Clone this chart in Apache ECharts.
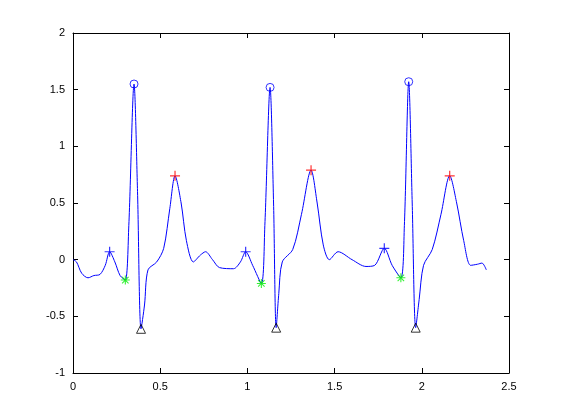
<!DOCTYPE html>
<html><head><meta charset="utf-8">
<script src="https://cdn.jsdelivr.net/npm/echarts@6/dist/echarts.min.js"></script>
<style>body{margin:0;background:#fff}#c{width:561px;height:420px}</style>
</head><body><div id="c"></div>
<script>
// ecg trace [t, mV]
var ecg = [[0,0],[0.02,-0.02],[0.05,-0.12],[0.086,-0.16],[0.12,-0.14],[0.155,-0.13],[0.185,-0.05],[0.21,0.07],[0.24,-0.02],[0.27,-0.14],[0.30,-0.18],
  [0.32,0.3],[0.35,1.55],[0.37,0.6],[0.39,-0.61],[0.41,-0.4],[0.43,-0.09],[0.48,-0.02],[0.52,0.1],[0.555,0.45],[0.585,0.74],[0.62,0.5],[0.65,0.17],[0.69,-0.02],
  [0.73,0.04],[0.76,0.07],[0.8,0.0],[0.84,-0.07],[0.92,-0.08],[0.96,-0.02],[0.99,0.07],[1.03,-0.05],[1.08,-0.21],
  [1.10,0.3],[1.13,1.52],[1.15,0.5],[1.165,-0.6],[1.18,-0.3],[1.2,-0.02],[1.26,0.09],[1.31,0.4],[1.365,0.79],[1.40,0.5],[1.435,0.13],[1.47,0.0],
  [1.52,0.07],[1.6,0.0],[1.68,-0.06],[1.73,-0.05],[1.785,0.1],[1.83,-0.05],[1.88,-0.16],
  [1.90,0.3],[1.925,1.57],[1.945,0.5],[1.965,-0.6],[1.985,-0.35],[2.01,-0.05],[2.06,0.09],[2.11,0.4],[2.16,0.74],[2.20,0.5],[2.24,0.17],[2.28,-0.05],[2.32,-0.04],[2.345,-0.03],[2.37,-0.09]];
var rPeaks = [[0.35,1.55],[1.13,1.52],[1.925,1.57]];
var sPoints = [[0.39,-0.61],[1.165,-0.6],[1.965,-0.6]];
var pPeaks = [[0.21,0.07],[0.99,0.07],[1.785,0.1]];
var qPoints = [[0.30,-0.18],[1.08,-0.21],[1.88,-0.16]];
var tPeaks = [[0.585,0.74],[1.365,0.79],[2.16,0.74]];

var plus = 'path://M4.4,0h1.2v10h-1.2zM0,4.4h10v1.2h-10z';
var star = 'path://M4.4,0h1.2v10h-1.2zM0,4.4h10v1.2h-10zM1,1.8l0.8,-0.8l7.2,7.2l-0.8,0.8zM8.2,1l0.8,0.8l-7.2,7.2l-0.8,-0.8z';
function mk(data, sym, color, size, bw){
  return {type:'scatter', data:data, symbol:sym, symbolSize:size, itemStyle:{color:bw ? 'rgba(0,0,0,0)' : color, borderColor:color, borderWidth:bw}, z:3};
}
function axis(pos, min, max, show){
  return {type:'value', position:pos, min:min, max:max, interval:0.5,
    axisLine:{onZero:false, lineStyle:{color:'#000',width:1}},
    axisTick:{inside:true,length:5,lineStyle:{color:'#000'}},
    axisLabel:{show:show,color:'#000',fontSize:11,fontFamily:'Liberation Sans',formatter:function(v){return String(v);}},
    splitLine:{show:false}};
}
var chart = echarts.init(document.getElementById('c'));
chart.setOption({
  animation:false,
  grid:{left:73,right:52,top:33,bottom:47},
  xAxis:[axis('bottom',0,2.5,true), axis('top',0,2.5,false)],
  yAxis:[axis('left',-1,2,true), axis('right',-1,2,false)],
  series:[
    {type:'line',data:ecg,smooth:0.3,showSymbol:false,lineStyle:{color:'#0000ff',width:1}},
    mk(rPeaks,'circle','#0000ff',8,1),
    mk(sPoints,'triangle','#000',9,1),
    mk(pPeaks,plus,'#0000ff',10,0),
    mk(qPoints,star,'#00ee00',9,0),
    mk(tPeaks,plus,'#ff0000',10,0)
  ]
});
</script></body></html>
